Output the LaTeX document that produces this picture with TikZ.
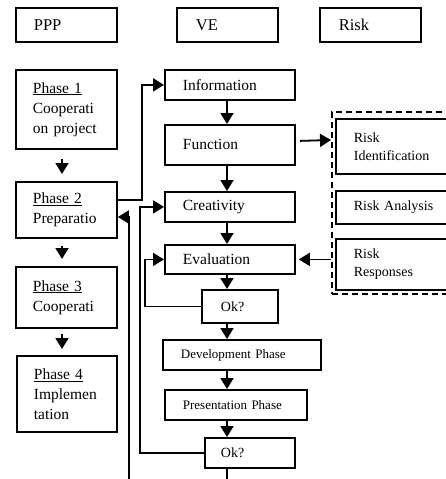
\documentclass[tikz,border=0pt]{standalone}
\usepackage{fontspec}
\setmainfont{Liberation Serif}
\usetikzlibrary{arrows.meta}

\begin{document}
\begin{tikzpicture}[x=1pt,y=-1pt]
        \tikzstyle{box} = [rectangle, draw=black, line width=1.8pt, anchor=north west, align=left, inner ysep=0pt, font=\fontsize{15.5}{20}\selectfont]
        \tikzstyle{head} = [box, minimum width=101pt, minimum height=34pt, inner xsep=19pt, text width=63pt, font=\fontsize{16.5}{20}\selectfont]
        \tikzstyle{phase} = [box, inner xsep=17pt, text width=67pt]
        \tikzstyle{vestep} = [box, inner xsep=18pt, text width=94pt, minimum height=30pt]
        \tikzstyle{small} = [box, font=\fontsize{13}{16}\selectfont, minimum height=30pt, inner xsep=18pt]
        \tikzstyle{okbox} = [box, font=\fontsize{14}{16}\selectfont, minimum height=31pt]
        \tikzstyle{riskstep} = [box, inner xsep=18pt, text width=84pt, font=\fontsize{14}{18}\selectfont]
        \tikzstyle{arrow} = [line width=1.8pt,->,>={Triangle[length=11pt,width=13pt]}]
        \tikzstyle{line} = [line width=1.8pt]

                \useasboundingbox (0,0) rectangle (445,479);

                % headers
                \node (ppp) [head, inner xsep=18pt, text width=65pt] at (15,7) {PPP};
                \node (ve) [head] at (176,7) {VE};
                \node (risk) [head] at (319,7) {Risk};

                % PPP phases
                \node (p1) [phase, minimum height=79pt] at (15,69) {\underline{Phase 1}\\Cooperati\\on project};
                \node (p2) [phase, minimum height=56pt] at (15,181) {\underline{Phase 2}\\Preparatio};
                \node (p3) [phase, minimum height=61pt] at (15,266) {\underline{Phase 3}\\Cooperati};
                \node (p4) [phase, minimum height=76pt, text width=66pt] at (16,355) {\underline{Phase 4}\\Implemen\\tation};

                % VE job plan
                \node (info) [vestep] at (164,69) {Information};
                \node (func) [vestep, minimum height=40pt] at (164,124) {Function};
                \node (crea) [vestep] at (164,191) {Creativity};
                \node (eval) [vestep, minimum height=29pt] at (164,244) {Evaluation};
                \node (oka) [okbox, inner xsep=19pt, text width=38pt, minimum height=33pt] at (201,289) {Ok?};
                \node (dev) [small, text width=122pt] at (162,339) {Development Phase};
                \node (pres) [small, text width=106pt] at (164,389) {Presentation Phase};
                \node (okb) [okbox, inner xsep=16pt, text width=58pt, minimum height=30pt] at (204,437) {Ok?};

                % risk
                \node (riskbox) [rectangle, draw=black, line width=1.8pt, dash pattern=on 6pt off 4pt, anchor=north west, minimum width=124pt, minimum height=182pt] at (331,111) {};
                \node (rid) [riskstep, minimum height=55pt] at (335,118) {Risk\\Identification};
                \node (rana) [riskstep, minimum height=33pt] at (335,190) {Risk Analysis};
                \node (rres) [riskstep, minimum height=51pt] at (335,238) {Risk\\Responses};

                \coordinate (vcol) at (227,0);
                \coordinate (pcol) at (62,0);
                \coordinate (botl) at (129,482);
                \coordinate (botr) at (227,482);

                \draw[arrow, shorten <=9pt, shorten >=7pt] (p1.south -| pcol) -- (p2.north -| pcol);
                \draw[arrow, shorten <=7pt, shorten >=7pt] (p2.south -| pcol) -- (p3.north -| pcol);
                \draw[arrow, shorten <=5pt, shorten >=6pt] (p3.south -| pcol) -- (p4.north -| pcol);

                \draw[arrow] (info.south -| vcol) -- (func.north -| vcol);
                \draw[arrow] (func.south -| vcol) -- (crea.north -| vcol);
                \draw[arrow] (crea.south -| vcol) -- (eval.north -| vcol);
                \draw[arrow] (eval.south -| vcol) -- (oka.north -| vcol);
                \draw[arrow] (oka.south -| vcol) -- (dev.north -| vcol);
                \draw[arrow] (dev.south -| vcol) -- (pres.north -| vcol);
                \draw[arrow] (pres.south -| vcol) -- (okb.north -| vcol);
                \draw[line] (okb.south -| vcol) -- (botr);

                \draw[arrow] (p2.east |- 0,200) -- ++(24,0) |- (info.west);
                \draw[arrow] (botl) |- (p2.east |- 0,217);
                \draw[arrow] (okb.west) -- ++(-64,0) |- (crea.west);
                \draw[arrow] (oka.west) -- ++(-56,0) |- (eval.west);

                \draw[arrow] ([shift={(4pt,4pt)}]func.east) -- (riskbox.west |- 0,140);
                \draw[arrow] (riskbox.west |- eval.east) -- ([xshift=3pt]eval.east);

    \end{tikzpicture}
\end{document}
